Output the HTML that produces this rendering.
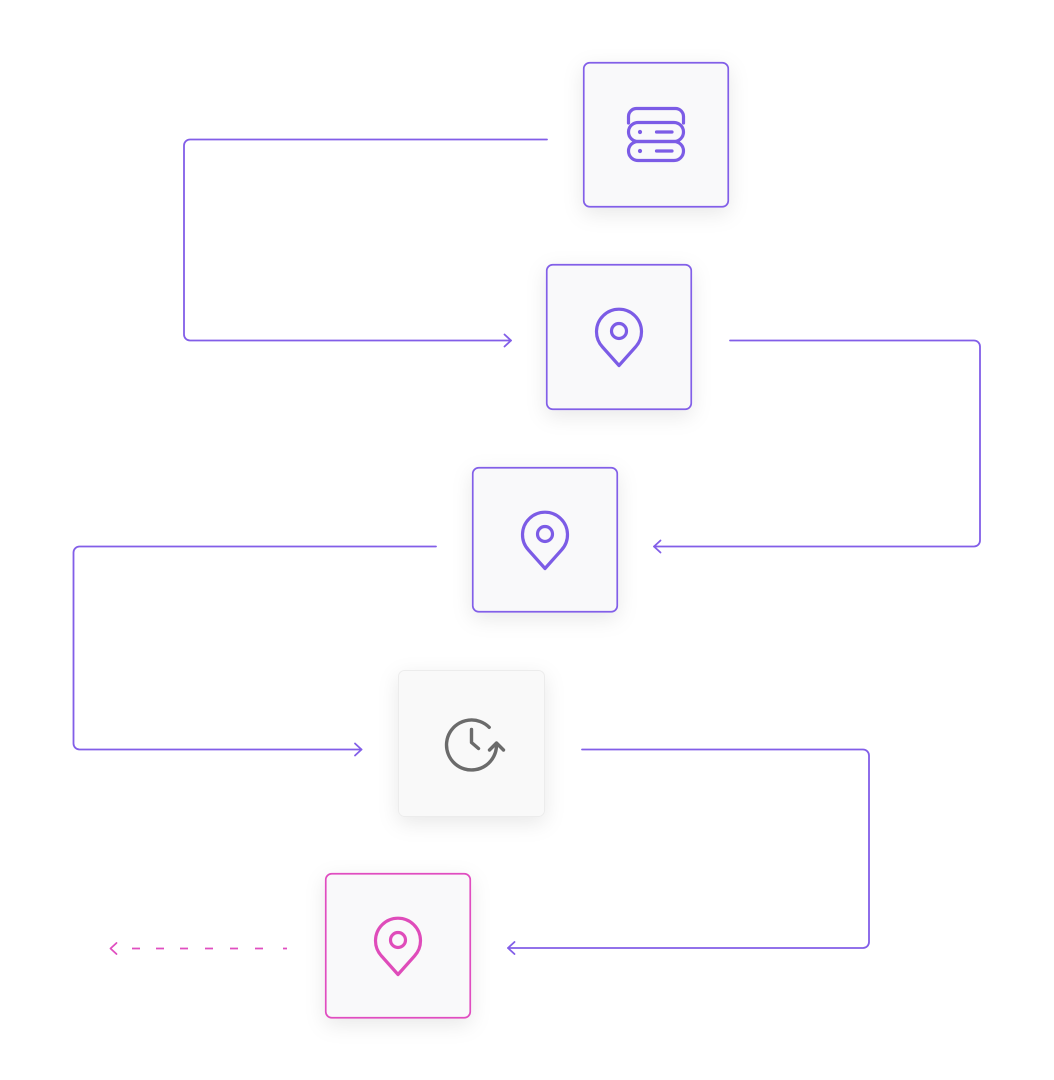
<!DOCTYPE html>
<html>
<head>
<meta charset="utf-8">
<style>
html,body{margin:0;padding:0;background:#ffffff;}
body{width:1054px;height:1080px;overflow:hidden;font-family:"Liberation Sans",sans-serif;}
svg{display:block;}
</style>
</head>
<body>
<svg width="1054" height="1080" viewBox="0 0 1054 1080" xmlns="http://www.w3.org/2000/svg">
  <defs>
    <filter id="sh" x="-30%" y="-30%" width="160%" height="160%">
      <feDropShadow dx="0" dy="6" stdDeviation="10" flood-color="#000" flood-opacity="0.09"/>
    </filter>
  </defs>

  <!-- connectors -->
  <g fill="none" stroke="#825ee8" stroke-width="1.8" stroke-linecap="round" stroke-linejoin="round">
    <path d="M547,139.5 H190 a6,6 0 0 0 -6,6 V334.5 a6,6 0 0 0 6,6 H511"/>
    <path d="M504.5,334.5 L511,340.5 L504.5,346.5"/>

    <path d="M730,340.5 H974 a6,6 0 0 1 6,6 V540.5 a6,6 0 0 1 -6,6 H654"/>
    <path d="M660.5,540.5 L654,546.5 L660.5,552.5"/>

    <path d="M436,546.5 H79.5 a6,6 0 0 0 -6,6 V743.5 a6,6 0 0 0 6,6 H361.5"/>
    <path d="M355,743.5 L361.5,749.5 L355,755.5"/>

    <path d="M582,749.5 H863 a6,6 0 0 1 6,6 V942 a6,6 0 0 1 -6,6 H508"/>
    <path d="M514.5,942 L508,948 L514.5,954"/>
  </g>

  <!-- dashed pink connector -->
  <g fill="none" stroke="#e04ec0" stroke-width="1.8" stroke-linecap="butt" stroke-linejoin="round">
    <path d="M132,948.5 H140 M156,948.5 H164 M180,948.5 H188 M205,948.5 H213 M230,948.5 H238 M255,948.5 H263 M283,948.5 H287"/>
    <path d="M116.5,943 L110.5,948.5 L116.5,954" stroke-linecap="round"/>
  </g>

  <!-- boxes -->
  <g filter="url(#sh)">
    <rect x="583.75" y="62.75" width="144.5" height="144" rx="6" fill="#f9f9fa" stroke="#825ee8" stroke-width="1.7"/>
    <rect x="546.75" y="264.75" width="144.5" height="144.5" rx="6" fill="#f9f9fa" stroke="#825ee8" stroke-width="1.7"/>
    <rect x="472.75" y="467.75" width="144.5" height="144" rx="6" fill="#f9f9fa" stroke="#825ee8" stroke-width="1.7"/>
    <rect x="398.5" y="670.5" width="146" height="146" rx="6" fill="#f9f9f9" stroke="#ececec" stroke-width="1"/>
    <rect x="325.75" y="873.75" width="144.5" height="144" rx="6" fill="#f9f9fa" stroke="#e04ec0" stroke-width="1.7"/>
  </g>

  <!-- server icon -->
  <g fill="none" stroke="#7c5ce6" stroke-width="3.2" stroke-linecap="round" stroke-linejoin="round">
    <path d="M628.5,123 V116.5 a8,8 0 0 1 8,-8 H675.5 a8,8 0 0 1 8,8 V123"/>
    <rect x="628.5" y="122.5" width="55" height="19" rx="9.5"/>
    <rect x="628.5" y="141.5" width="55" height="19" rx="9.5"/>
    <path d="M656.5,132 H672 M656.5,151 H672"/>
  </g>
  <g fill="#7c5ce6">
    <circle cx="640" cy="132" r="2.1"/>
    <circle cx="640" cy="151" r="2.1"/>
  </g>

  <!-- pin icons -->
  <g fill="none" stroke="#7c5ce6" stroke-width="3.2" stroke-linejoin="round">
    <path d="M619,365.5 L602.5,347 A22.5,22.5 0 1 1 635.5,347 Z"/>
    <circle cx="619" cy="331" r="7.5"/>
    <path d="M545,568.5 L528.5,550 A22.5,22.5 0 1 1 561.5,550 Z"/>
    <circle cx="545" cy="534" r="7.5"/>
  </g>
  <g fill="none" stroke="#df4cba" stroke-width="3.2" stroke-linejoin="round">
    <path d="M398,974.5 L381.5,956 A22.5,22.5 0 1 1 414.5,956 Z"/>
    <circle cx="398" cy="940" r="7.5"/>
  </g>

  <!-- clock icon -->
  <g fill="none" stroke="#6b6b6b" stroke-width="3.4" stroke-linecap="round" stroke-linejoin="round">
    <path d="M489.2,727.3 A25,25 0 1 0 496.5,746"/>
    <path d="M489.5,750 L496.5,743 L503.5,750"/>
    <path d="M471.5,729.5 V742.5 L478.5,748.5"/>
  </g>
</svg>
</body>
</html>
